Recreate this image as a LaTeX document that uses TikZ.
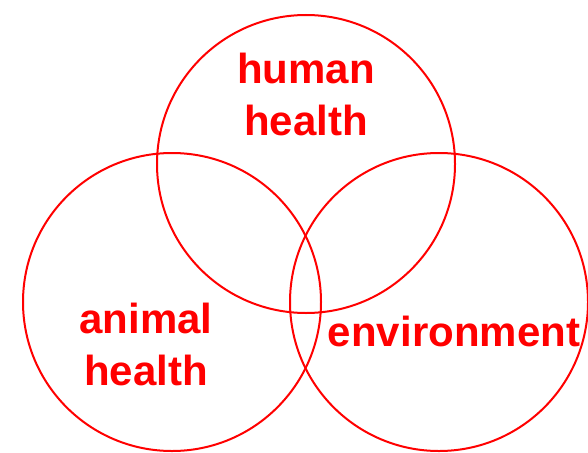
\documentclass[tikz,border=0pt]{standalone}
\usepackage{fontspec}
\setmainfont{Liberation Sans}
\begin{document}
\begin{tikzpicture}[x=1pt,y=-1pt,
  ring/.style={draw=red, line width=2pt, circle, minimum size=298pt, inner sep=0pt},
  lbl/.style={text=red, font=\fontsize{42}{52}\selectfont\bfseries, anchor=base, inner sep=0pt}]
\useasboundingbox (0,0) rectangle (588,452);
\node[ring] (top) at (306,164) {};
\node[ring] (left) at (172,302) {};
\node[ring] (right) at (439,302) {};
\node[lbl] (h1) at (306,83) {human};
\node[lbl] (h2) at (306,135) {health};
\node[lbl] (a1) at (146,333) {animal};
\node[lbl] (a2) at (146,385) {health};
\node[lbl] (env) at (454,346) {environment};
\end{tikzpicture}
\end{document}
